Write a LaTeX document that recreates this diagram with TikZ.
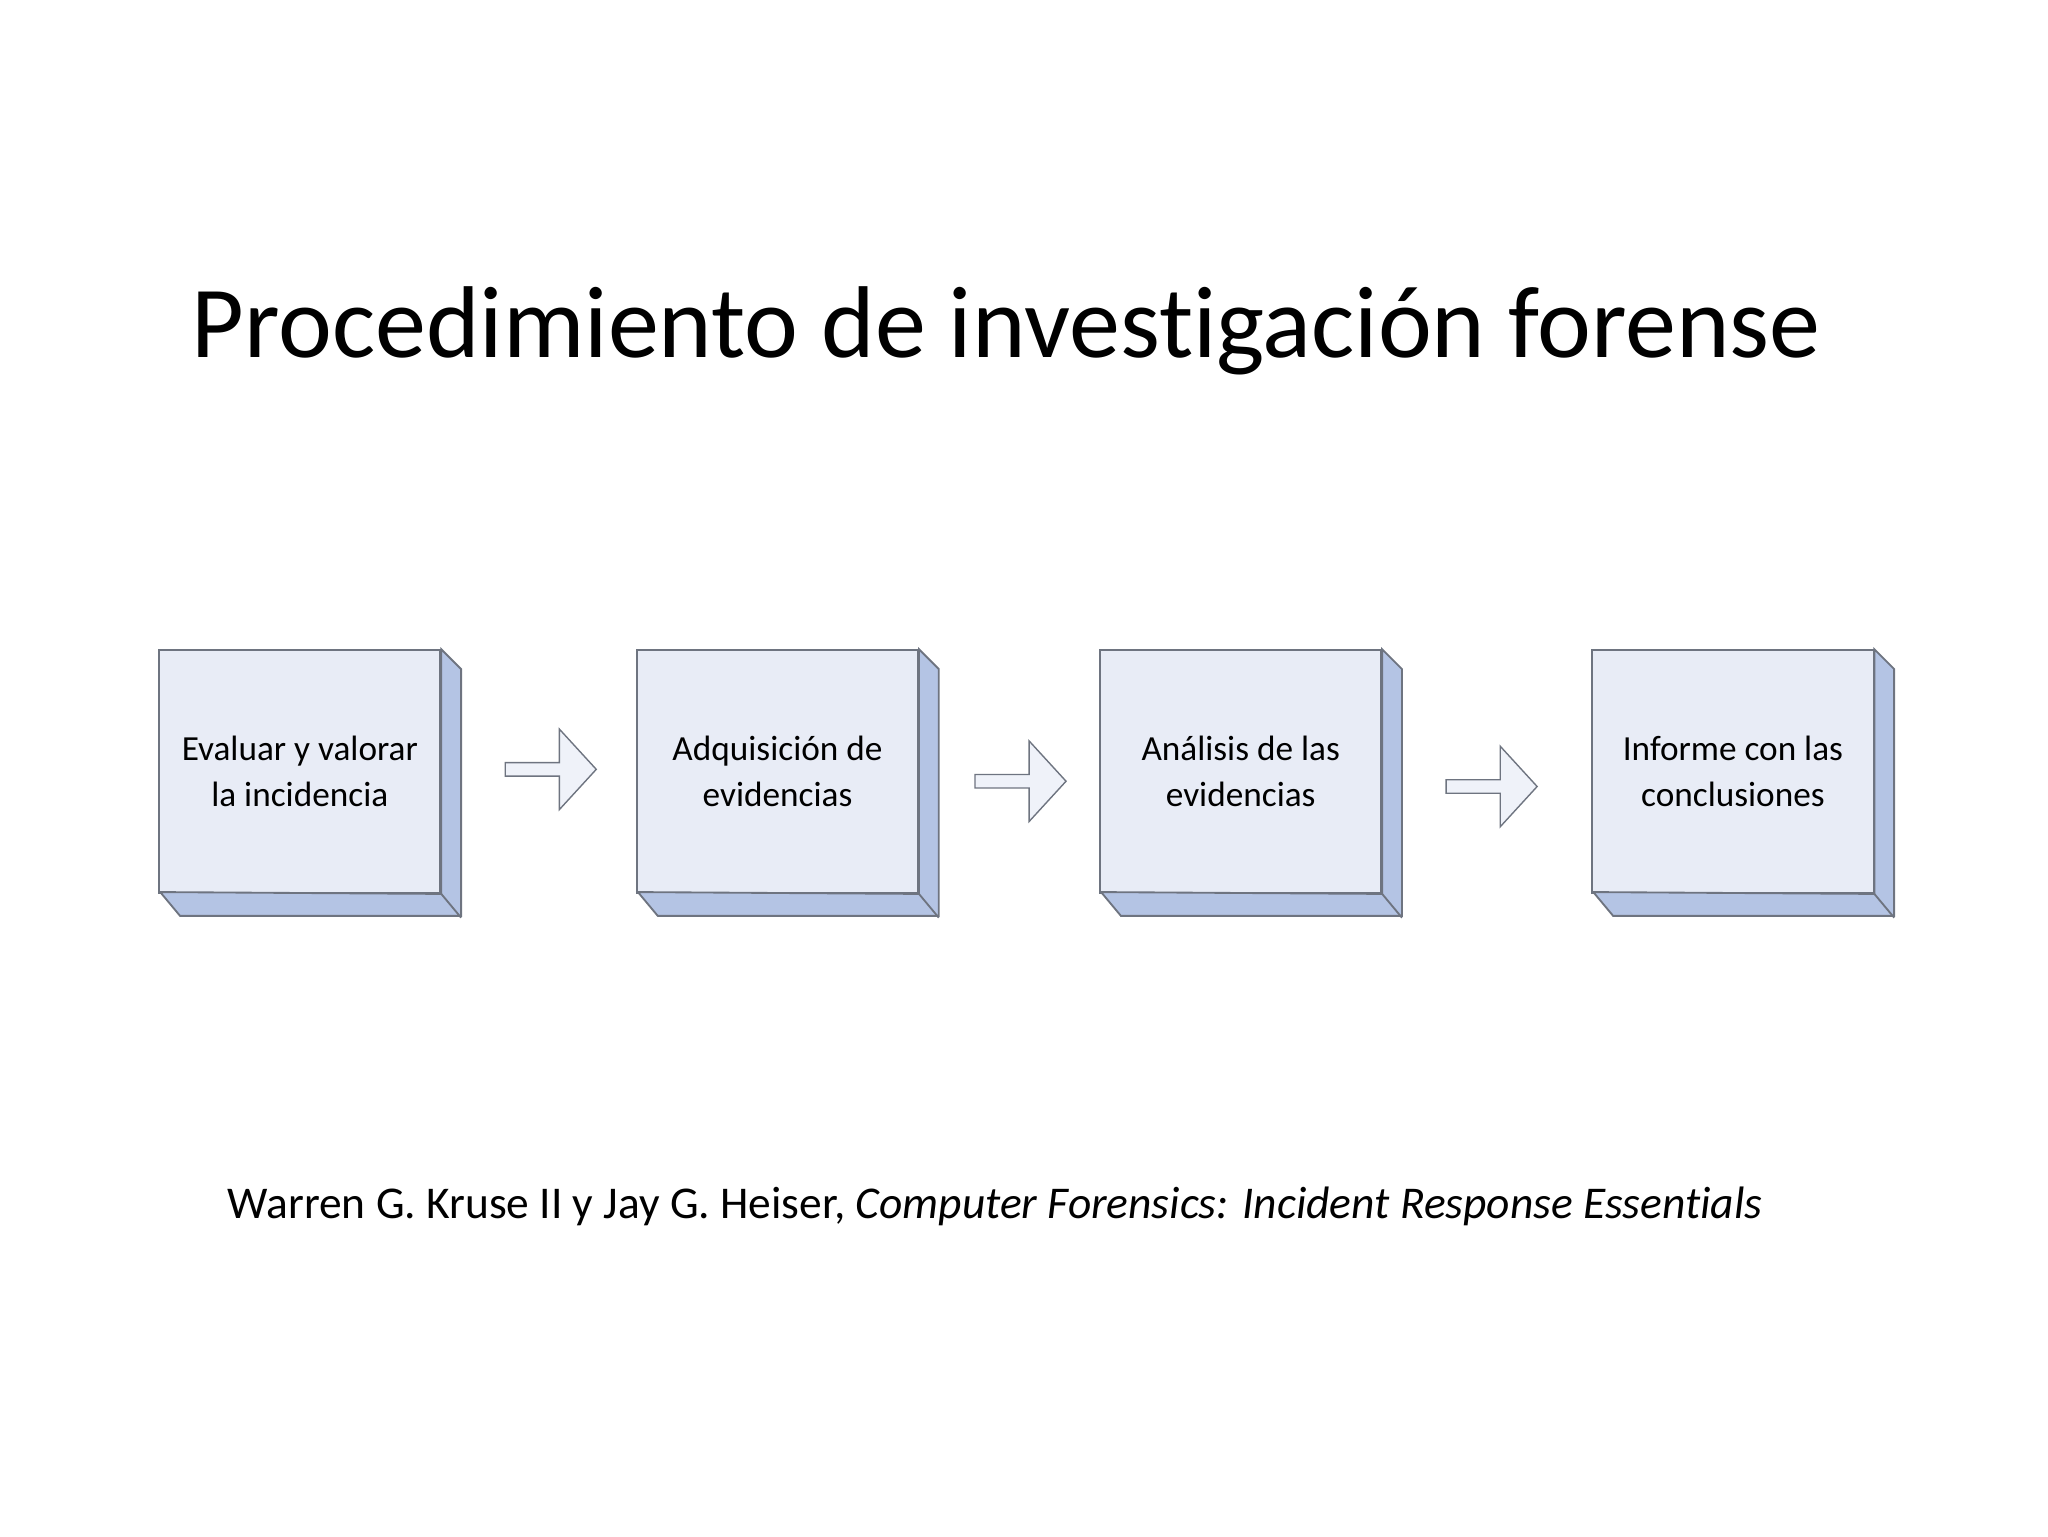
\documentclass[tikz,border=0pt]{standalone}
\usepackage{fontspec}
\setmainfont[Ligatures={NoCommon}]{Carlito}
\usetikzlibrary{shapes.arrows}
\definecolor{face}{HTML}{E8ECF6}
\definecolor{side}{HTML}{B4C4E4}
\definecolor{edge}{HTML}{6E7480}
\begin{document}
\begin{tikzpicture}[x=0.1mm,y=-0.1mm,
  stepbox/.style={draw=edge,line width=0.4pt,fill=face,minimum width=21.3mm,minimum height=18.4mm,inner sep=0,align=center,font=\fontsize{7.6pt}{10pt}\selectfont},
  sidef/.style={draw=edge,line width=0.4pt,fill=side},
  arr/.style={single arrow,draw=edge,line width=0.3pt,fill=face!70!white,minimum width=6.1mm,single arrow head extend=1.75mm,single arrow tip angle=95,minimum height=6.9mm,inner sep=0.3mm}]
\useasboundingbox (0,0) rectangle (1552,1164);
\node[anchor=west,font=\fontsize{22pt}{24pt}\selectfont] (title) at (133,251) {Procedimiento de investigación forense};
\foreach \n/\x/\t in {b1/120/{Evaluar y valorar\\la incidencia},b2/482/{Adquisición de\\evidencias},b3/833/{Análisis de las\\evidencias},b4/1206/{Informe con las\\conclusiones}}{
  \node[stepbox,anchor=north west] (\n) at (\x,492) {\t};
  \draw[sidef] (\n.north east) -- ++(15,15) -- ++(0,187) -- ++(-213,0) -- ++(-15,-18) -- (\n.south east) -- cycle;
  \draw[draw=edge,line width=0.4pt] (\n.south east) -- ++(15,18);
}
\node[arr] (a1) at (415,583) {};
\node[arr] (a2) at (771,592) {};
\node[arr] (a3) at (1128,596) {};
\node[anchor=west,font=\fontsize{9.8pt}{11pt}\selectfont] (cite) at (160,914) {Warren G. Kruse II y Jay G. Heiser, \textit{Computer Forensics: Incident Response Essentials}};
\end{tikzpicture}
\end{document}
